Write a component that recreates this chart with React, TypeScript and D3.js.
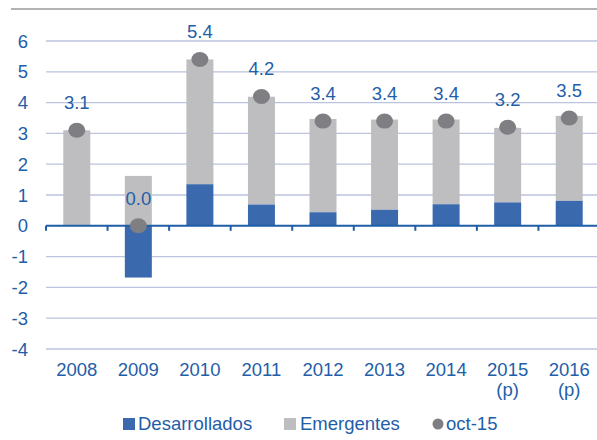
import React from "react";
import * as d3 from "d3";

const years = ["2008", "2009", "2010", "2011", "2012", "2013", "2014", "2015", "2016"];
const yearSub = ["", "", "", "", "", "", "", "(p)", "(p)"];
const desarrollados = [0.02, -1.68, 1.35, 0.69, 0.44, 0.52, 0.7, 0.76, 0.81];
const emergentes = [3.08, 1.62, 4.05, 3.5, 3.03, 2.93, 2.75, 2.42, 2.76];
const oct15 = [3.1, 0.0, 5.4, 4.2, 3.4, 3.4, 3.4, 3.2, 3.5];
const yTicks = [-4, -3, -2, -1, 0, 1, 2, 3, 4, 5, 6];

const BLUE = "#3A6AAD";
const GRAY = "#BEBEC0";
const DOT = "#7F7F83";
const TEXT = "#1F5EA8";
const GRID = "#BBC3DE";
const FONT = "'Liberation Sans', Arial, sans-serif";
const FS = 18.5;

export default function App() {
  const W = 597, H = 440;
  const x = d3.scaleBand<string>().domain(years).range([46, 600]).paddingInner(0).paddingOuter(0);
  const y = d3.scaleLinear().domain([-4, 6]).range([349, 41]);
  const bw = 27;
  const cx = (i: number) => (x(years[i]) as number) + x.bandwidth() / 2;

  return (
    <svg width={W} height={H} style={{ position: "absolute", left: 0, top: 0, background: "#fff" }} fontFamily={FONT}>
      <line x1={11} x2={597} y1={9} y2={9} stroke="#9A9A9A" strokeWidth={1.5} />
      {yTicks.map((t) => (
        <g key={t}>
          {t !== 0 && <line x1={46} x2={597} y1={y(t)} y2={y(t)} stroke={GRID} strokeWidth={1.3} />}
          <text x={28} y={y(t) + 6.5} textAnchor="end" fontSize={FS} fill={TEXT}>{t}</text>
        </g>
      ))}
      {years.map((yr, i) => {
        const d = desarrollados[i];
        const e = emergentes[i];
        const base = Math.max(0, d);
        return (
          <g key={yr}>
            <rect x={cx(i) - bw / 2} y={y(base + e)} width={bw} height={y(base) - y(base + e)} fill={GRAY} />
            <rect x={cx(i) - bw / 2} y={d >= 0 ? y(d) : y(0)} width={bw} height={Math.abs(y(d) - y(0))} fill={BLUE} />
          </g>
        );
      })}
      <line x1={46} x2={597} y1={y(0)} y2={y(0)} stroke={TEXT} strokeWidth={2} />
      {years.map((yr) => (
        <line key={yr} x1={x(yr) as number} x2={x(yr) as number} y1={y(0)} y2={y(0) + 5} stroke={TEXT} strokeWidth={2} />
      ))}
      {years.map((yr, i) => (
        <g key={yr}>
          <ellipse cx={cx(i)} cy={y(oct15[i])} rx={8.5} ry={7.5} fill={DOT} />
          <text x={cx(i)} y={y(oct15[i]) - 21} textAnchor="middle" fontSize={FS} fill={TEXT}>{oct15[i].toFixed(1)}</text>
          <text x={cx(i)} y={376} textAnchor="middle" fontSize={FS} fill={TEXT}>{yr}</text>
          {yearSub[i] && <text x={cx(i)} y={396} textAnchor="middle" fontSize={FS} fill={TEXT}>{yearSub[i]}</text>}
        </g>
      ))}
      <rect x={123} y={418} width={12} height={12} fill={BLUE} />
      <text x={138} y={430} fontSize={FS} fill={TEXT}>Desarrollados</text>
      <rect x={284} y={418} width={12} height={12} fill={GRAY} />
      <text x={300} y={430} fontSize={FS} fill={TEXT}>Emergentes</text>
      <circle cx={438} cy={424} r={5.5} fill={DOT} />
      <text x={446} y={430} fontSize={FS} fill={TEXT}>oct-15</text>
    </svg>
  );
}
